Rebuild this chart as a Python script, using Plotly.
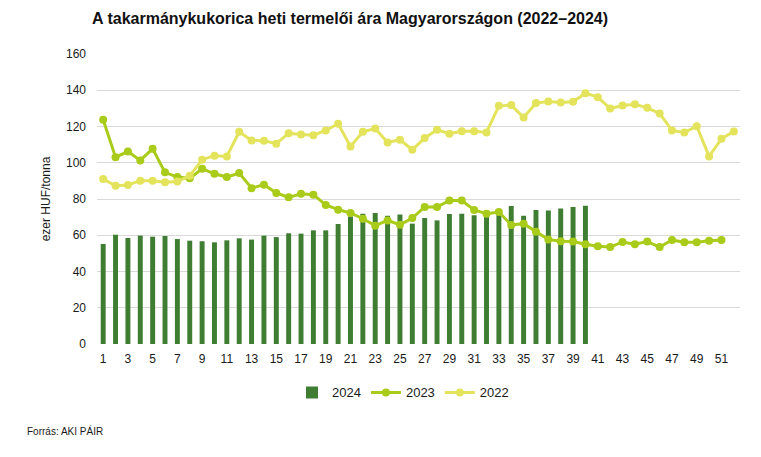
import plotly.graph_objects as go

weeks = list(range(1, 53))

y2024 = [55.2, 60.3, 58.5, 59.8, 59.2, 59.6, 57.9, 57.0, 56.7, 56.1,
         57.2, 58.3, 57.6, 59.8, 59.0, 61.1, 60.9, 62.7, 62.7, 66.2,
         70.4, 71.9, 72.3, 70.8, 71.5, 66.4, 69.5, 68.2, 71.7, 71.9,
         71.0, 70.8, 71.9, 76.1, 70.8, 73.9, 73.6, 74.7, 75.6, 76.3]

y2023 = [123.7, 103.1, 106.2, 101.3, 107.7, 94.7, 92.1, 91.4, 96.7, 93.9,
         92.1, 94.3, 86.0, 87.9, 83.3, 80.9, 82.9, 82.4, 76.7, 74.1,
         72.3, 69.1, 65.3, 68.2, 65.8, 69.5, 75.6, 75.6, 79.2, 79.2,
         74.0, 71.9, 72.8, 65.7, 66.4, 62.0, 57.6, 56.7, 56.5, 55.0,
         53.9, 53.5, 56.3, 55.0, 56.5, 53.5, 57.4, 56.1, 56.1, 57.0,
         57.4]

y2022 = [91.0, 87.3, 87.7, 90.1, 90.1, 89.3, 89.7, 92.8, 101.7, 103.9,
         103.5, 117.1, 112.3, 112.1, 110.5, 116.3, 115.6, 115.2, 117.8, 121.5,
         109.0, 117.1, 118.9, 111.2, 112.7, 107.2, 113.6, 118.2, 116.0, 117.4,
         117.4, 116.7, 131.4, 131.8, 125.0, 132.9, 133.8, 133.2, 133.6, 138.4,
         136.2, 129.9, 131.6, 132.3, 130.3, 127.2, 117.8, 116.7, 120.2, 103.5,
         113.2, 117.3]

tick_vals = list(range(1, 53, 2))
tick_text = [str(v) for v in tick_vals]

c24 = "#3E7D32"
c23 = "#A9CB1A"
c22 = "#E3E45C"

fig = go.Figure()
fig.add_trace(go.Bar(x=weeks[:len(y2024)], y=y2024, name="2024",
                     marker=dict(color=c24, line=dict(width=0))))
fig.add_trace(go.Scatter(x=weeks[:len(y2023)], y=y2023, name="2023",
                         mode="lines+markers",
                         line=dict(color=c23, width=3),
                         marker=dict(color=c23, size=8)))
fig.add_trace(go.Scatter(x=weeks[:len(y2022)], y=y2022, name="2022",
                         mode="lines+markers",
                         line=dict(color=c22, width=3),
                         marker=dict(color=c22, size=8)))

# page has an 8px body margin; figure coords = page coords - 8
W, H = 753, 449
L, T = 89, 46
R = W - 732
B = H - 336.5
ph = H - T - B
pw = W - L - R

font = "Liberation Sans, Arial, sans-serif"

fig.update_layout(
    width=W, height=H,
    margin=dict(l=L, r=R, t=T, b=B, autoexpand=False),
    paper_bgcolor="white", plot_bgcolor="white",
    font=dict(family=font, size=12, color="#1a1a1a"),
    bargap=0.6,
    showlegend=True,
    legend=dict(orientation="h", x=(395 - L) / pw, xanchor="center",
                y=(336.5 - 370) / ph, yanchor="top",
                font=dict(size=13, color="#1a1a1a"), traceorder="normal",
                itemwidth=30, tracegroupgap=0),
    title=dict(text="<b>A takarmánykukorica heti termelői ára Magyarországon (2022–2024)</b>",
               x=84 / W, xanchor="left", y=1 - 10 / H, yanchor="middle",
               font=dict(size=16, color="#111", family=font)),
    annotations=[
        dict(text="Forrás: AKI PÁIR", x=(17 - L) / pw, y=(336.5 - 424) / ph,
             xref="paper", yref="paper",
             xanchor="left", yanchor="middle", showarrow=False,
             font=dict(size=10, color="#1a1a1a"))
    ],
)

fig.update_xaxes(range=[0.5, 52.5], tickmode="array", tickvals=tick_vals, ticktext=tick_text,
                 showgrid=False, zeroline=False, showline=False,
                 ticks="outside", ticklen=4, tickcolor="white",
                 tickfont=dict(size=12, color="#1a1a1a"))
fig.update_yaxes(range=[0, 160], dtick=20, showgrid=True, gridcolor="#D9D9D9", gridwidth=1,
                 zeroline=False, showline=False, ticks="", ticklabelstandoff=10,
                 tickfont=dict(size=12, color="#1a1a1a"),
                 title=dict(text="ezer HUF/tonna", font=dict(size=12, color="#1a1a1a"), standoff=12))

fig.write_html("out.html")
